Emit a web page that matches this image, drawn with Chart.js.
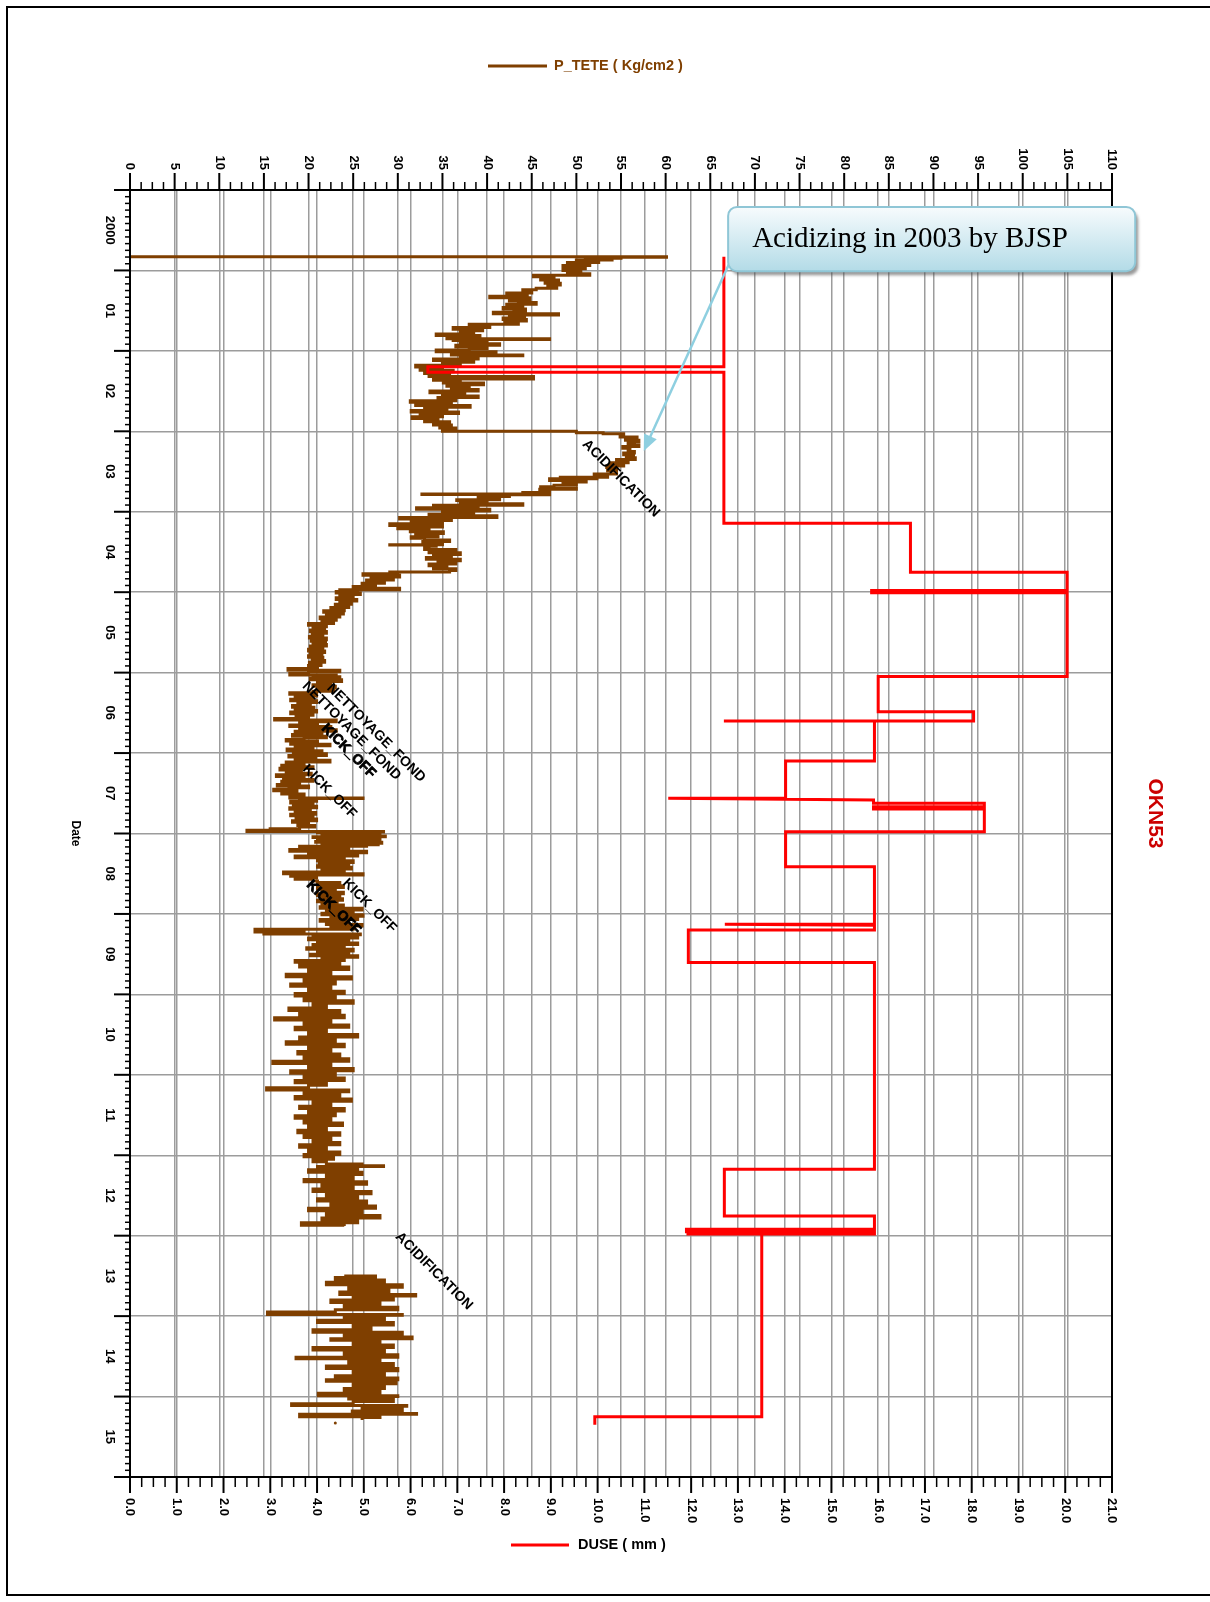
<!DOCTYPE html>
<html>
<head>
<meta charset="utf-8">
<title>OKN53</title>
<script src="https://cdn.jsdelivr.net/npm/chart.js@4.4.0/dist/chart.umd.min.js"></script>
<style>
  html, body { margin: 0; padding: 0; background: #fff; }
  canvas { display: block; }
</style>
</head>
<body>
<canvas id="okn53" width="1210" height="1602"></canvas>
<script>
// year labels on the date axis (one per year, centred in the year)
const yearLabels = ['2000', '01', '02', '03', '04', '05', '06', '07', '08', '09', '10', '11', '12', '13', '14', '15'];

// P_TETE (Kg/cm2) : [decimal year, value]  - before the 2013 gap
const pteteA = [
  [2000.83, 0], [2000.835, 60.1], [2000.85, 55], [2000.86, 51], [2000.87, 54], [2000.88, 50], [2000.90, 52.5], [2000.92, 49],
  [2000.94, 51.5], [2000.96, 48.5], [2000.98, 51], [2001.00, 48.5], [2001.02, 50.5], [2001.04, 49], [2001.06, 51.5], [2001.08, 45.2],
  [2001.10, 47.5], [2001.12, 46], [2001.14, 48], [2001.16, 46.5], [2001.18, 48.2], [2001.20, 46.8], [2001.22, 47.8], [2001.24, 45.5],
  [2001.26, 44], [2001.28, 45], [2001.30, 42.2], [2001.32, 44.5], [2001.34, 40.3], [2001.36, 44.8], [2001.38, 42.5], [2001.40, 43.5],
  [2001.42, 45.5], [2001.44, 42.2], [2001.46, 44], [2001.48, 41.8], [2001.50, 44.3], [2001.52, 43], [2001.54, 40.7], [2001.555, 48],
  [2001.57, 42.5], [2001.59, 44.2], [2001.61, 41.8], [2001.63, 44.4], [2001.65, 42], [2001.67, 43.5], [2001.69, 38], [2001.71, 40.3],
  [2001.73, 36.2], [2001.75, 39.5], [2001.77, 37], [2001.79, 38.5], [2001.81, 34.3], [2001.83, 39.2], [2001.85, 35.5], [2001.86, 47],
  [2001.87, 36.2], [2001.89, 40], [2001.91, 37], [2001.93, 41.4], [2001.95, 36.5], [2001.97, 40], [2001.99, 38], [2002.01, 34.3],
  [2002.03, 41], [2002.05, 36], [2002.06, 44], [2002.08, 37], [2002.10, 39], [2002.12, 34], [2002.14, 38.5], [2002.16, 35],
  [2002.18, 37], [2002.20, 32], [2002.22, 35], [2002.24, 32.5], [2002.26, 36.2], [2002.28, 33], [2002.30, 35.8], [2002.32, 33.5],
  [2002.35, 45.2], [2002.365, 34], [2002.38, 37], [2002.40, 35.1], [2002.42, 39.6], [2002.44, 35.5], [2002.46, 38], [2002.48, 36],
  [2002.50, 39], [2002.52, 33.6], [2002.54, 37.5], [2002.56, 35], [2002.58, 39], [2002.60, 34.5], [2002.62, 36.5], [2002.64, 31.4],
  [2002.66, 36], [2002.68, 32], [2002.70, 38.1], [2002.72, 33], [2002.74, 35.5], [2002.76, 31.5], [2002.78, 36.8], [2002.80, 32.5],
  [2002.82, 35], [2002.84, 31.6], [2002.86, 34.5], [2002.88, 33], [2002.90, 35.8], [2002.92, 34], [2002.94, 36], [2002.96, 34.7],
  [2002.98, 36.5], [2003.00, 35], [2003.017, 50], [2003.03, 53], [2003.05, 55.3], [2003.07, 54.9], [2003.09, 56.8], [2003.11, 55.5],
  [2003.13, 57], [2003.15, 55.8], [2003.17, 56.5], [2003.19, 57], [2003.21, 55.2], [2003.23, 56], [2003.25, 55.8], [2003.27, 56.5],
  [2003.29, 55.3], [2003.31, 56.4], [2003.33, 55.6], [2003.35, 56.6], [2003.37, 54.5], [2003.39, 55.8], [2003.41, 53.8], [2003.43, 55.3],
  [2003.45, 53.4], [2003.47, 54.5], [2003.49, 53.5], [2003.53, 54.5], [2003.55, 52], [2003.57, 53.5], [2003.585, 48.2], [2003.59, 52.3],
  [2003.61, 47], [2003.63, 51.1], [2003.65, 48.5], [2003.67, 50], [2003.69, 47.5], [2003.71, 46], [2003.72, 50], [2003.74, 45.9],
  [2003.76, 47], [2003.78, 44], [2003.785, 32.7], [2003.79, 47], [2003.80, 40], [2003.81, 42.5], [2003.83, 39], [2003.85, 41.4],
  [2003.86, 36.6], [2003.88, 40], [2003.90, 37], [2003.92, 44], [2003.93, 34], [2003.95, 39], [2003.97, 32.1], [2003.99, 40.3],
  [2004.01, 35], [2004.03, 38.5], [2004.05, 33.5], [2004.07, 41.1], [2004.09, 30.2], [2004.11, 36], [2004.13, 31.5], [2004.15, 35],
  [2004.17, 29.1], [2004.19, 35], [2004.21, 30], [2004.23, 33.5], [2004.25, 31.4], [2004.27, 35.1], [2004.29, 32], [2004.31, 34.5],
  [2004.33, 31.5], [2004.35, 33], [2004.37, 35.8], [2004.39, 32.8], [2004.41, 35], [2004.413, 29.1], [2004.43, 34.3], [2004.45, 33.5],
  [2004.47, 33], [2004.49, 36.5], [2004.51, 33.5], [2004.53, 37], [2004.55, 34], [2004.57, 36], [2004.59, 33.2], [2004.61, 37],
  [2004.63, 34.5], [2004.65, 36.5], [2004.67, 33.5], [2004.69, 35.5], [2004.71, 34], [2004.73, 36.5], [2004.75, 35.8], [2004.757, 29.1],
  [2004.77, 30], [2004.79, 26.1], [2004.81, 30.2], [2004.83, 27], [2004.85, 29.5], [2004.87, 26.5], [2004.89, 28.5], [2004.91, 26],
  [2004.93, 27.5], [2004.95, 25], [2004.97, 30.2], [2004.975, 23.5], [2004.99, 25.5], [2005.01, 23.1], [2005.03, 25.8], [2005.05, 23.5],
  [2005.07, 25], [2005.09, 23.1], [2005.11, 25.4], [2005.13, 23.5], [2005.15, 24.8], [2005.17, 23], [2005.19, 24.5], [2005.21, 22.5],
  [2005.23, 24], [2005.25, 21.7], [2005.27, 23.9], [2005.29, 22], [2005.31, 23.5], [2005.33, 21.3], [2005.35, 23.1], [2005.37, 21.5],
  [2005.39, 22.8], [2005.41, 20], [2005.43, 22], [2005.45, 20.5], [2005.47, 21.8], [2005.49, 20.2], [2005.51, 22], [2005.53, 20.4],
  [2005.55, 21.6], [2005.57, 20.1], [2005.59, 22], [2005.61, 20.3], [2005.63, 21.9], [2005.65, 20.5], [2005.67, 22], [2005.69, 20.2],
  [2005.71, 21.6], [2005.73, 20], [2005.75, 21.8], [2005.77, 20.2], [2005.79, 21.5], [2005.81, 20], [2005.83, 21.6], [2005.85, 20.4],
  [2005.87, 21.8], [2005.89, 20.1], [2005.91, 21.4], [2005.93, 20], [2005.95, 21], [2005.97, 17.7], [2005.99, 23.5], [2006.01, 20],
  [2006.03, 17.9], [2006.035, 23.1], [2006.05, 20.5], [2006.07, 23.5], [2006.09, 20.2], [2006.11, 23.7], [2006.13, 21], [2006.15, 22.5],
  [2006.17, 20.5], [2006.19, 23], [2006.21, 21], [2006.23, 22.8], [2006.25, 20.5], [2006.27, 17.9], [2006.29, 20.9], [2006.31, 18.5],
  [2006.33, 20.5], [2006.35, 18], [2006.37, 20.9], [2006.39, 18.8], [2006.41, 20.2], [2006.43, 18.2], [2006.45, 20.6], [2006.47, 18.5],
  [2006.49, 20.9], [2006.51, 18], [2006.53, 20.5], [2006.55, 18.6], [2006.57, 20], [2006.59, 16.2], [2006.61, 23.1], [2006.63, 19],
  [2006.65, 21], [2006.67, 17.9], [2006.69, 22.5], [2006.71, 19], [2006.73, 23.1], [2006.75, 18.5], [2006.77, 21.5], [2006.79, 18.2],
  [2006.81, 22], [2006.83, 19.5], [2006.85, 17.5], [2006.87, 21], [2006.89, 18], [2006.91, 22.4], [2006.93, 18.5], [2006.95, 20.5],
  [2006.97, 17.6], [2006.99, 21.5], [2007.01, 18.3], [2007.03, 22], [2007.05, 17.8], [2007.07, 20.8], [2007.09, 18.5], [2007.11, 22.4],
  [2007.13, 17.5], [2007.15, 19.5], [2007.17, 17], [2007.19, 20.5], [2007.21, 16.8], [2007.23, 19.2], [2007.25, 17.5], [2007.27, 20.3],
  [2007.29, 16.4], [2007.31, 19.5], [2007.33, 17.2], [2007.35, 20.5], [2007.37, 17], [2007.39, 19], [2007.41, 16.5], [2007.43, 20],
  [2007.45, 17.8], [2007.47, 16.1], [2007.49, 18.7], [2007.51, 17], [2007.53, 19.5], [2007.56, 17.9], [2007.565, 26.1], [2007.58, 19],
  [2007.60, 20.9], [2007.62, 18], [2007.64, 20.5], [2007.66, 18.3], [2007.68, 20.9], [2007.70, 17.9], [2007.72, 20.2], [2007.74, 18.5],
  [2007.76, 20.8], [2007.78, 18], [2007.80, 20.5], [2007.82, 18.6], [2007.84, 20.9], [2007.86, 18.2], [2007.88, 20], [2007.90, 18.8],
  [2007.92, 20.7], [2007.94, 19], [2007.96, 15.7], [2007.975, 13.1], [2007.98, 28.4], [2007.99, 21], [2008.00, 27.5], [2008.01, 21.5],
  [2008.02, 28], [2008.03, 22], [2008.04, 28.6], [2008.05, 20.5], [2008.06, 27.5], [2008.07, 21], [2008.08, 28], [2008.09, 22],
  [2008.10, 27], [2008.11, 20.8], [2008.12, 28.2], [2008.13, 21.5], [2008.14, 27.8], [2008.15, 22], [2008.16, 26.5], [2008.18, 19],
  [2008.20, 24.5], [2008.22, 17.9], [2008.24, 26.5], [2008.26, 20], [2008.28, 25.5], [2008.30, 18.5], [2008.32, 24], [2008.34, 21],
  [2008.36, 25], [2008.38, 21.2], [2008.40, 24.5], [2008.42, 21], [2008.44, 24.8], [2008.46, 21.5], [2008.48, 24], [2008.50, 17.2],
  [2008.515, 26.1], [2008.53, 18], [2008.55, 20.9], [2008.57, 18.5], [2008.59, 20.5], [2008.61, 21], [2008.63, 23.5], [2008.65, 21.2],
  [2008.67, 23.9], [2008.69, 21], [2008.71, 23], [2008.73, 21.5], [2008.75, 23.9], [2008.77, 21], [2008.79, 23.5], [2008.81, 21.3],
  [2008.83, 23.8], [2008.85, 21], [2008.87, 23.2], [2008.89, 21.5], [2008.91, 23.9], [2008.93, 21.3], [2008.95, 26], [2008.97, 22],
  [2008.99, 25], [2009.01, 21.5], [2009.03, 26.1], [2009.05, 22.5], [2009.07, 25.5], [2009.09, 21.3], [2009.11, 24.5], [2009.13, 22],
  [2009.15, 26], [2009.17, 22.5], [2009.19, 25], [2009.21, 14], [2009.215, 19], [2009.225, 14], [2009.235, 19.5], [2009.25, 15],
  [2009.26, 25.8], [2009.28, 20.5], [2009.30, 25.5], [2009.32, 20], [2009.34, 24.5], [2009.36, 21], [2009.38, 25.5], [2009.40, 20.5],
  [2009.42, 24], [2009.44, 19.8], [2009.46, 25], [2009.48, 21], [2009.50, 24.5], [2009.52, 20.2], [2009.54, 25.5], [2009.56, 21.5],
  [2009.58, 24], [2009.60, 18.5], [2009.63, 23.5], [2009.66, 19], [2009.69, 24.5], [2009.72, 20], [2009.75, 22.5], [2009.78, 17.5],
  [2009.81, 24.8], [2009.84, 19.5], [2009.87, 23], [2009.90, 18], [2009.93, 22.5], [2009.96, 20], [2009.99, 24], [2010.02, 18.5],
  [2010.05, 23], [2010.08, 19.5], [2010.11, 25], [2010.14, 20.5], [2010.17, 22], [2010.20, 17.8], [2010.23, 23.5], [2010.26, 19],
  [2010.29, 24], [2010.32, 16.2], [2010.35, 22.5], [2010.38, 19.5], [2010.41, 24.5], [2010.44, 18.5], [2010.47, 22], [2010.50, 20],
  [2010.53, 25.5], [2010.56, 19], [2010.59, 23], [2010.62, 17.5], [2010.65, 24], [2010.68, 20], [2010.71, 22.5], [2010.74, 18.8],
  [2010.77, 23.5], [2010.80, 19.5], [2010.83, 24.5], [2010.86, 16], [2010.89, 22.5], [2010.92, 20], [2010.95, 25], [2010.98, 18],
  [2011.01, 23], [2011.04, 19.5], [2011.07, 24], [2011.10, 18.5], [2011.13, 22], [2011.16, 20], [2011.19, 15.3], [2011.21, 24.5],
  [2011.24, 19.5], [2011.27, 23.5], [2011.30, 18.5], [2011.33, 24.8], [2011.36, 20.5], [2011.39, 22.5], [2011.42, 19], [2011.45, 24],
  [2011.48, 20], [2011.51, 23], [2011.54, 18.5], [2011.57, 22.5], [2011.60, 19.5], [2011.63, 23.8], [2011.66, 20], [2011.69, 22],
  [2011.72, 18.8], [2011.75, 23.5], [2011.78, 19.5], [2011.81, 22.5], [2011.84, 20.5], [2011.87, 23.5], [2011.90, 19], [2011.93, 22],
  [2011.96, 20], [2011.99, 23.5], [2012.02, 19.5], [2012.05, 22.8], [2012.08, 20.5], [2012.11, 22], [2012.13, 26], [2012.14, 28.4],
  [2012.15, 21], [2012.18, 25.5], [2012.21, 20], [2012.24, 26], [2012.27, 22], [2012.30, 25], [2012.33, 19.5], [2012.36, 26.5],
  [2012.39, 21.5], [2012.42, 25], [2012.45, 20.5], [2012.48, 27], [2012.51, 22], [2012.54, 25.5], [2012.57, 21], [2012.60, 26.5],
  [2012.63, 22.5], [2012.66, 27.5], [2012.69, 20], [2012.72, 26], [2012.75, 22], [2012.78, 28], [2012.81, 21.5], [2012.84, 25.5],
  [2012.87, 19.2], [2012.88, 24]
];

// P_TETE after the gap (2013 - 2015)
const pteteB = [
  [2013.50, 24], [2013.52, 27.5], [2013.55, 23], [2013.58, 28.5], [2013.61, 22], [2013.64, 30.5], [2013.67, 24.5], [2013.70, 29],
  [2013.73, 23.5], [2013.75, 32], [2013.77, 25], [2013.80, 29.5], [2013.83, 22.5], [2013.86, 28], [2013.89, 24], [2013.92, 30],
  [2013.95, 23], [2013.98, 15.4], [2013.99, 30.5], [2014.02, 24], [2014.05, 28.5], [2014.08, 21], [2014.11, 29.5], [2014.14, 25],
  [2014.17, 27], [2014.20, 20.5], [2014.23, 30.5], [2014.26, 24], [2014.28, 31.6], [2014.30, 22.5], [2014.33, 28], [2014.36, 25],
  [2014.39, 29.5], [2014.42, 20.5], [2014.45, 28.5], [2014.48, 24], [2014.51, 30], [2014.53, 18.6], [2014.56, 28], [2014.59, 24.5],
  [2014.62, 29.5], [2014.65, 22], [2014.68, 30], [2014.71, 25], [2014.74, 28.5], [2014.77, 23], [2014.79, 30], [2014.81, 22],
  [2014.84, 29.8], [2014.87, 25], [2014.90, 28.5], [2014.93, 24], [2014.96, 28], [2014.99, 21.1], [2015.00, 30], [2015.03, 24.5],
  [2015.06, 29.5], [2015.09, 25], [2015.11, 18.1], [2015.12, 31], [2015.15, 26], [2015.18, 30.5], [2015.21, 24.9], [2015.22, 32.1],
  [2015.25, 19], [2015.26, 28], [2015.29, 26]
];
const pteteDot = [[2015.33, 23]];

// DUSE (mm) : [decimal year, choke size]
const duseSteps = [
  [2000.83, 12.7], [2002.197, 12.7], [2002.197, 6.37], [2002.267, 6.37], [2002.267, 12.7], [2004.143, 12.7], [2004.143, 16.69],
  [2004.753, 16.69], [2004.753, 20.04], [2004.98, 20.04], [2004.98, 15.86], [2005.006, 15.86], [2005.006, 20.04], [2006.048, 20.04],
  [2006.048, 16.0], [2006.485, 16.0], [2006.485, 18.04], [2006.60, 18.04], [2006.60, 12.7], [2006.60, 15.92], [2007.10, 15.92],
  [2007.10, 14.02], [2007.562, 14.02], [2007.562, 11.51], [2007.583, 15.9], [2007.624, 15.9], [2007.624, 18.27], [2007.666, 18.27],
  [2007.666, 15.9], [2007.695, 15.9], [2007.695, 18.27], [2007.977, 18.27], [2007.977, 14.02], [2008.412, 14.02], [2008.412, 15.92],
  [2009.128, 15.92], [2009.128, 12.72], [2009.14, 15.92], [2009.20, 15.92], [2009.20, 11.94], [2009.605, 11.94], [2009.605, 15.92],
  [2012.175, 15.92], [2012.175, 12.71], [2012.755, 12.71], [2012.755, 15.92], [2012.92, 15.92], [2012.92, 11.9], [2012.95, 11.9],
  [2012.95, 15.92], [2012.98, 15.92], [2012.98, 11.9], [2012.98, 13.51], [2015.25, 13.51], [2015.25, 9.94], [2015.35, 9.94]
];

// event notes: [text, year, P_TETE position, heavy]
const notes = [
  ['ACIDIFICATION', 2003.587, 55.0, false],
  ['ACIDIFICATION', 2013.44, 34.05, false],
  ['NETTOYAGE_FOND', 2006.75, 27.56, false],
  ['NETTOYAGE_FOND', 2006.725, 24.81, false],
  ['KICK_OFF', 2006.974, 24.48, true],
  ['KICK_OFF', 2007.48, 22.35, false],
  ['KICK_OFF', 2008.90, 26.83, false],
  ['KICK_OFF', 2008.92, 22.8, true]
];

const FONT = '"Liberation Sans", Arial, sans-serif';
const BROWN = '#7f3f00';
const RED = '#ff0000';
const GRID = '#9c9c9c';

const toPoints = rows => rows.map(r => ({ x: r[1], y: r[0] }));

function rotText(ctx, txt, x, y, angle, align) {
    ctx.save();
    ctx.translate(x, y);
    ctx.rotate(angle);
    ctx.textAlign = align;
    ctx.textBaseline = 'middle';
    ctx.fillText(txt, 0, 0);
    ctx.restore();
}

function roundRect(ctx, x, y, w, h, r) {
    ctx.beginPath();
    ctx.moveTo(x + r, y);
    ctx.arcTo(x + w, y, x + w, y + h, r);
    ctx.arcTo(x + w, y + h, x, y + h, r);
    ctx.arcTo(x, y + h, x, y, r);
    ctx.arcTo(x, y, x + w, y, r);
    ctx.closePath();
}

// axes, ticks, labels, legends and notes drawn on top of the chart
const decor = {
    id: 'decor',
    afterDraw(chart) {
        const ctx = chart.ctx, a = chart.chartArea;
        const sp = chart.scales.xP, sd = chart.scales.xD, sy = chart.scales.y;
        ctx.save();
        ctx.strokeStyle = '#000';
        ctx.fillStyle = '#000';

        // page frame (open on the right, runs off the page)
        ctx.lineWidth = 2;
        ctx.beginPath();
        ctx.moveTo(1210, 7); ctx.lineTo(7, 7); ctx.lineTo(7, 1595); ctx.lineTo(1210, 1595);
        ctx.stroke();

        // plot frame + axis stubs
        ctx.strokeRect(a.left, a.top, a.right - a.left, a.bottom - a.top);
        ctx.beginPath();
        ctx.moveTo(a.left - 16, a.top); ctx.lineTo(a.left, a.top);
        ctx.moveTo(a.left - 16, a.bottom); ctx.lineTo(a.left, a.bottom);
        ctx.stroke();

        // top axis (P_TETE)
        for (let i = 0; i <= 88; i++) {
            const v = i * 1.25, x = sp.getPixelForValue(v), major = i % 4 === 0;
            ctx.lineWidth = major ? 2 : 1.5;
            ctx.beginPath();
            ctx.moveTo(x, a.top); ctx.lineTo(x, a.top - (major ? 17 : 8));
            ctx.stroke();
        }
        ctx.font = 'bold 13px ' + FONT;
        sp.ticks.forEach(t => rotText(ctx, String(t.value), sp.getPixelForValue(t.value), a.top - 20, Math.PI / 2, 'right'));

        // bottom axis (DUSE)
        for (let i = 0; i <= 84; i++) {
            const v = i * 0.25, x = sd.getPixelForValue(v), major = i % 4 === 0;
            ctx.lineWidth = major ? 2 : 1.5;
            ctx.beginPath();
            ctx.moveTo(x, a.bottom); ctx.lineTo(x, a.bottom + (major ? 16 : 10));
            ctx.stroke();
        }
        sd.ticks.forEach(t => rotText(ctx, t.value.toFixed(1), sd.getPixelForValue(t.value), a.bottom + 21, Math.PI / 2, 'left'));

        // date axis, monthly ticks
        for (let m = 0; m <= 16 * 12; m++) {
            const y = sy.getPixelForValue(2000 + m / 12), major = m % 12 === 0;
            ctx.lineWidth = major ? 2 : 1.5;
            ctx.beginPath();
            ctx.moveTo(a.left, y); ctx.lineTo(a.left - (major ? 16 : 5), y);
            ctx.stroke();
        }
        yearLabels.forEach((lab, i) => rotText(ctx, lab, a.left - 20, sy.getPixelForValue(2000 + i + 0.5), Math.PI / 2, 'center'));

        // axis titles
        ctx.font = 'bold 12px ' + FONT;
        rotText(ctx, 'Date', 75, (a.top + a.bottom) / 2, Math.PI / 2, 'center');
        ctx.font = 'bold 21px ' + FONT;
        ctx.fillStyle = '#cc0000';
        rotText(ctx, 'OKN53', 1155, (a.top + a.bottom) / 2 - 20, Math.PI / 2, 'center');

        // legends
        ctx.lineWidth = 3;
        ctx.strokeStyle = BROWN;
        ctx.beginPath(); ctx.moveTo(488, 66); ctx.lineTo(547, 66); ctx.stroke();
        ctx.fillStyle = BROWN;
        ctx.font = 'bold 14.5px ' + FONT;
        ctx.textAlign = 'left'; ctx.textBaseline = 'middle';
        ctx.fillText('P_TETE ( Kg/cm2 )', 554, 66);
        ctx.strokeStyle = RED;
        ctx.beginPath(); ctx.moveTo(511, 1545); ctx.lineTo(569, 1545); ctx.stroke();
        ctx.fillStyle = '#000';
        ctx.fillText('DUSE ( mm )', 578, 1545);

        // event notes along the pressure curve
        ctx.font = 'bold 14px ' + FONT;
        ctx.strokeStyle = '#000';
        ctx.lineWidth = 0.8;
        notes.forEach(n => {
            ctx.save();
            ctx.translate(sp.getPixelForValue(n[2]), sy.getPixelForValue(n[1]));
            ctx.rotate(Math.PI / 4);
            ctx.textAlign = 'center'; ctx.textBaseline = 'middle';
            ctx.fillText(n[0], 0, 0);
            if (n[3]) ctx.strokeText(n[0], 0, 0);
            ctx.restore();
        });

        // callout arrow
        const x0 = sp.getPixelForValue(67.2), y0 = sy.getPixelForValue(2000.895);
        const x1 = sp.getPixelForValue(57.55), y1 = sy.getPixelForValue(2003.245);
        const ang = Math.atan2(y1 - y0, x1 - x0);
        ctx.strokeStyle = '#8ecfe0';
        ctx.fillStyle = '#8ecfe0';
        ctx.lineWidth = 2.5;
        ctx.beginPath();
        ctx.moveTo(x0, y0);
        ctx.lineTo(x1 - 12 * Math.cos(ang), y1 - 12 * Math.sin(ang));
        ctx.stroke();
        ctx.beginPath();
        ctx.moveTo(x1, y1);
        ctx.lineTo(x1 - 16 * Math.cos(ang) + 7 * Math.sin(ang), y1 - 16 * Math.sin(ang) - 7 * Math.cos(ang));
        ctx.lineTo(x1 - 16 * Math.cos(ang) - 7 * Math.sin(ang), y1 - 16 * Math.sin(ang) + 7 * Math.cos(ang));
        ctx.closePath();
        ctx.fill();

        // callout box
        const bx = sp.getPixelForValue(67.0), by = sy.getPixelForValue(2000.21);
        const bw = sp.getPixelForValue(112.6) - bx, bh = sy.getPixelForValue(2001.01) - by;
        ctx.save();
        ctx.shadowColor = 'rgba(70,70,70,0.55)';
        ctx.shadowOffsetX = 3; ctx.shadowOffsetY = 4; ctx.shadowBlur = 3;
        const g = ctx.createLinearGradient(0, by, 0, by + bh);
        g.addColorStop(0, '#f7fbfd');
        g.addColorStop(1, '#b3dbe7');
        roundRect(ctx, bx, by, bw, bh, 9);
        ctx.fillStyle = g;
        ctx.fill();
        ctx.restore();
        roundRect(ctx, bx, by, bw, bh, 9);
        ctx.strokeStyle = '#8fc6d6';
        ctx.lineWidth = 2;
        ctx.stroke();
        ctx.fillStyle = '#000';
        ctx.font = '29px "Liberation Serif", "Times New Roman", serif';
        ctx.textAlign = 'left'; ctx.textBaseline = 'alphabetic';
        ctx.fillText('Acidizing in 2003 by BJSP', bx + 24, by + 40);

        ctx.restore();
    }
};

const zeroHeight = s => { s.height = 0; };
const zeroWidth = s => { s.width = 0; };

new Chart(document.getElementById('okn53').getContext('2d'), {
    type: 'scatter',
    data: {
        datasets: [
            { label: 'DUSE ( mm )', data: toPoints(duseSteps), xAxisID: 'xD', yAxisID: 'y', showLine: true,
              borderColor: RED, borderWidth: 3, pointRadius: 0, order: 0 },
            { label: 'P_TETE ( Kg/cm2 )', data: toPoints(pteteA), xAxisID: 'xP', yAxisID: 'y', showLine: true,
              stepped: true, borderColor: BROWN, borderWidth: 3, pointRadius: 0, order: 1 },
            { label: 'P_TETE b', data: toPoints(pteteB), xAxisID: 'xP', yAxisID: 'y', showLine: true,
              stepped: true, borderColor: BROWN, borderWidth: 3, pointRadius: 0, order: 1 },
            { label: 'P_TETE dot', data: toPoints(pteteDot), xAxisID: 'xP', yAxisID: 'y', showLine: false,
              backgroundColor: BROWN, borderWidth: 0, pointRadius: 1.5, order: 1 }
        ]
    },
    options: {
        responsive: false,
        animation: false,
        devicePixelRatio: 1,
        events: [],
        layout: { padding: { left: 130, top: 190, right: 98, bottom: 125 } },
        plugins: { legend: { display: false }, tooltip: { enabled: false } },
        scales: {
            xP: {
                type: 'linear', position: 'top', min: 0, max: 110,
                ticks: { display: false, stepSize: 5 },
                grid: { color: GRID, lineWidth: 1.5, drawTicks: false },
                border: { display: false },
                afterFit: zeroHeight
            },
            xD: {
                type: 'linear', position: 'bottom', min: 0, max: 21,
                ticks: { display: false, stepSize: 1 },
                grid: { color: GRID, lineWidth: 1.5, drawTicks: false },
                border: { display: false },
                afterFit: zeroHeight
            },
            y: {
                type: 'linear', reverse: true, min: 2000, max: 2016,
                ticks: { display: false, stepSize: 1 },
                grid: { color: GRID, lineWidth: 1.5, drawTicks: false },
                border: { display: false },
                afterFit: zeroWidth
            }
        }
    },
    plugins: [decor]
});
</script>
</body>
</html>
